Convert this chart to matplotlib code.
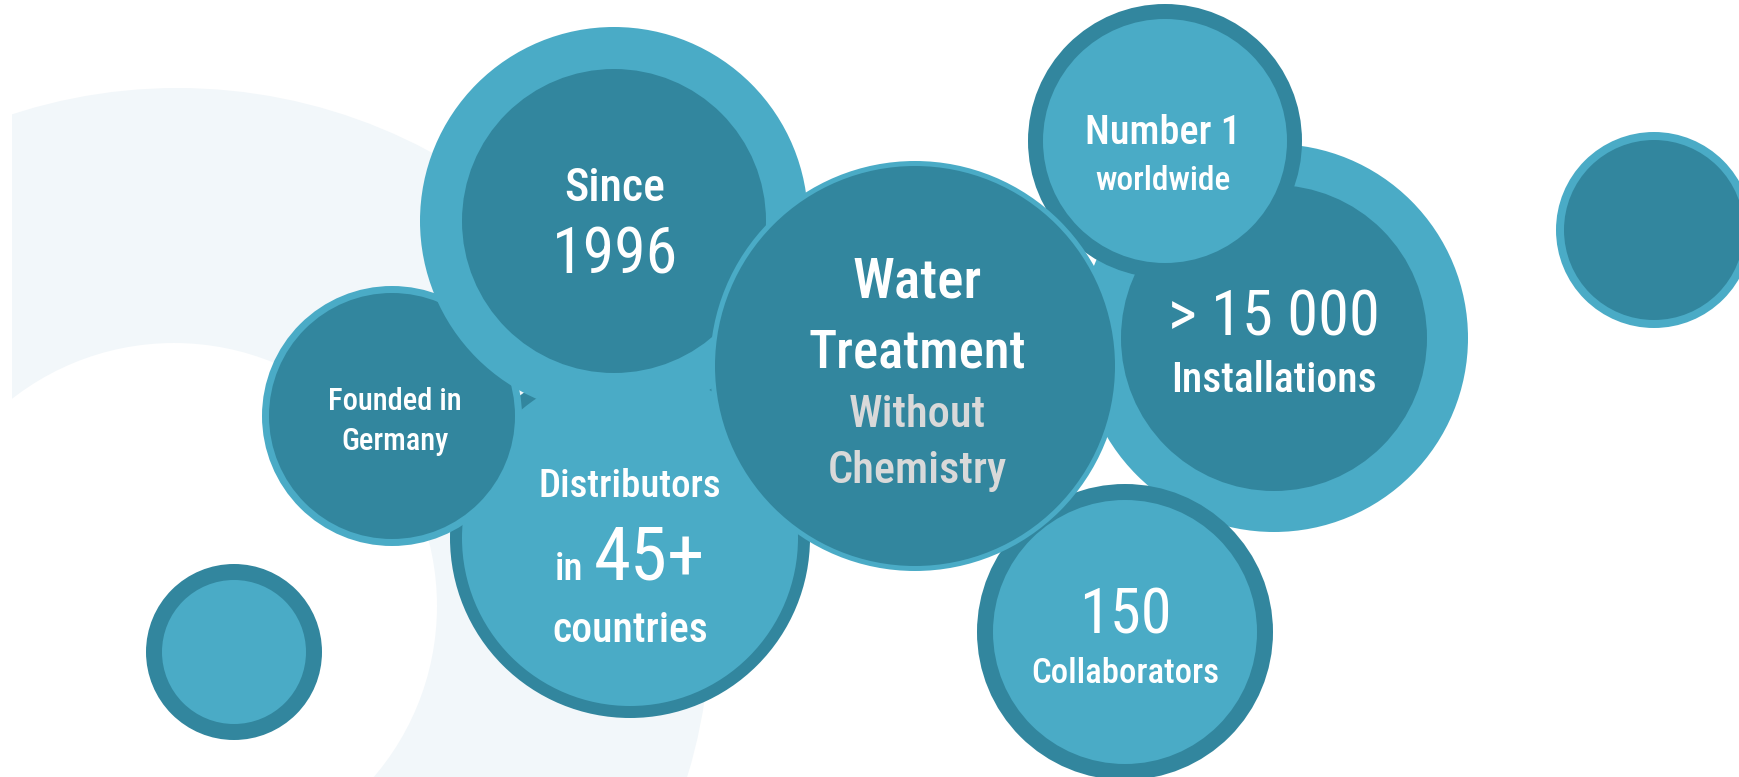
import matplotlib
matplotlib.use("Agg")
import matplotlib.pyplot as plt
from matplotlib import font_manager
from matplotlib.patches import Circle, Rectangle

W, H = 1740, 777

DARK = "#32869e"
LIGHT = "#4aabc6"
PALE = "#f2f7fa"
GREY = "#d9d9d9"

# bubbles, in drawing order (pixel units of the picture)
names = ["dot_left", "dot_right", "distributors", "founded", "since",
         "installations", "number1", "collaborators", "center"]
cx = [234, 1654, 630, 392, 614, 1274, 1165, 1125, 915]
cy = [652, 230, 538, 416, 221, 338, 141, 632, 366]
radius = [88, 98, 180, 130, 194, 194, 137, 148, 205]
ring = [16, 8, 12, 7, 42, 41, 15, 16, 5]
ring_color = [DARK, LIGHT, DARK, LIGHT, LIGHT, LIGHT, DARK, DARK, LIGHT]
core_color = [LIGHT, DARK, LIGHT, DARK, DARK, DARK, LIGHT, LIGHT, DARK]

# text lines: (text, x, baseline y, size, colour, weight)
lines = [
    ("Founded in", 395, 410, 22, "white", "medium"),
    ("Germany", 395, 450, 22, "white", "medium"),
    ("Since", 615, 201, 33, "white", "medium"),
    ("1996", 615, 274, 46, "white", "normal"),
    ("Distributors", 630, 497, 28, "white", "medium"),
    ("countries", 630, 642, 30, "white", "medium"),
    ("Water", 917, 297, 40, "white", "medium"),
    ("Treatment", 917, 367, 38, "white", "medium"),
    ("Without", 917, 427, 32, GREY, "medium"),
    ("Chemistry", 917, 483, 32, GREY, "medium"),
    ("> 15 000", 1274, 335, 45, "white", "normal"),
    ("Installations", 1274, 392, 30, "white", "medium"),
    ("Number 1", 1163, 144, 29, "white", "medium"),
    ("worldwide", 1163, 190, 24, "white", "medium"),
    ("150", 1125, 634, 45, "white", "normal"),
    ("Collaborators", 1125, 683, 25, "white", "medium"),
]

# narrowest face we can find
wanted = ["Liberation Sans Narrow", "Roboto Condensed", "Open Sans Condensed",
          "DejaVu Sans Condensed"]
have = {f.name for f in font_manager.fontManager.ttflist}
FONT = [n for n in wanted if n in have] + ["DejaVu Sans"]
STYLE = dict(family=FONT, fontstretch="condensed")

fig = plt.figure(figsize=(W / 100, H / 100), dpi=100)
ax = fig.add_axes([0, 0, 1, 1])
ax.set_xlim(0, W)
ax.set_ylim(H, 0)
ax.axis("off")

# pale background arc, cut straight on the left
clip = Rectangle((12, 0), W, H, transform=ax.transData)
outer = Circle((177.5, 621), 533, color=PALE, lw=0)
inner = Circle((174, 606), 263, color="white", lw=0)
for p in (outer, inner):
    ax.add_patch(p)
    p.set_clip_path(clip)

for i in range(len(names)):
    ax.add_patch(Circle((cx[i], cy[i]), radius[i], color=ring_color[i], lw=0))
    ax.add_patch(Circle((cx[i], cy[i]), radius[i] - ring[i], color=core_color[i], lw=0))

for txt, x, y, size, col, wt in lines:
    ax.text(x, y, txt, ha="center", va="baseline", fontsize=size,
            color=col, fontweight=wt, **STYLE)

# "in 45+" mixes two sizes on one baseline
ax.text(583, 580, "in", ha="right", va="baseline", fontsize=28, color="white",
        fontweight="medium", **STYLE)
ax.text(594, 580, "45+", ha="left", va="baseline", fontsize=54, color="white",
        fontweight="normal", **STYLE)

fig.savefig("out.png", dpi=100)
plt.close(fig)
